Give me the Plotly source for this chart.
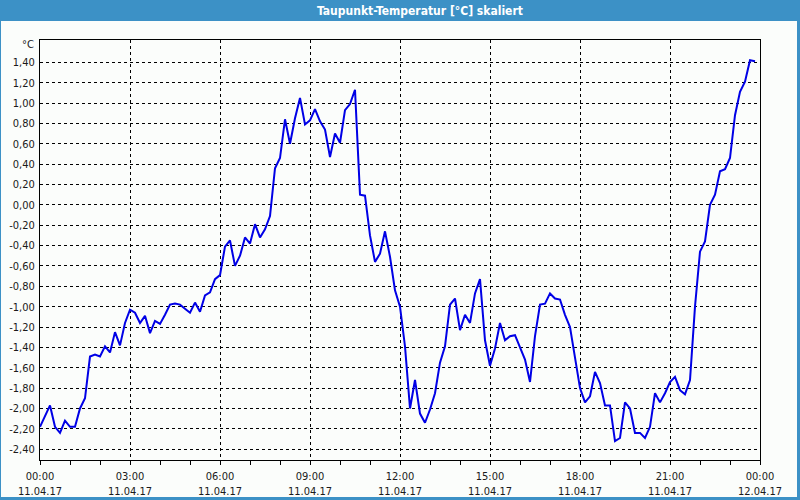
import plotly.graph_objects as go
import pandas as pd

# ---- data ----
START = "2017-04-11 00:00"
INTERVAL = "10min"
dewpoint = [
    -2.18, -2.08, -1.97, -2.18, -2.24, -2.12, -2.18, -2.18, -2.00, -1.90,
    -1.49, -1.47, -1.49, -1.39, -1.45, -1.25, -1.38, -1.16, -1.03, -1.06,
    -1.16, -1.09, -1.26, -1.14, -1.17, -1.08, -0.98, -0.97, -0.98, -1.02,
    -1.06, -0.96, -1.05, -0.89, -0.86, -0.73, -0.69, -0.41, -0.35, -0.60,
    -0.50, -0.32, -0.38, -0.19, -0.32, -0.24, -0.11, 0.36, 0.46, 0.84,
    0.60, 0.85, 1.05, 0.79, 0.83, 0.94, 0.82, 0.74, 0.47, 0.70,
    0.61, 0.93, 0.99, 1.13, 0.10, 0.09, -0.30, -0.56, -0.48, -0.26,
    -0.51, -0.84, -1.00, -1.39, -2.00, -1.72, -2.05, -2.14, -2.01, -1.85,
    -1.55, -1.39, -0.98, -0.92, -1.23, -1.08, -1.16, -0.87, -0.73, -1.33,
    -1.58, -1.41, -1.16, -1.33, -1.29, -1.28, -1.41, -1.52, -1.74, -1.29,
    -0.98, -0.97, -0.87, -0.92, -0.93, -1.08, -1.20, -1.49, -1.80, -1.94,
    -1.88, -1.64, -1.75, -1.97, -1.97, -2.32, -2.29, -1.94, -2.00, -2.24,
    -2.24, -2.29, -2.18, -1.85, -1.94, -1.85, -1.74, -1.69, -1.82, -1.86,
    -1.72, -1.00, -0.46, -0.36, 0.00, 0.10, 0.33, 0.35, 0.46, 0.88,
    1.11, 1.21, 1.42, 1.41,
]
Y_TICKS = [-2.40, -2.20, -2.00, -1.80, -1.60, -1.40, -1.20, -1.00, -0.80, -0.60,
           -0.40, -0.20, 0.00, 0.20, 0.40, 0.60, 0.80, 1.00, 1.20, 1.40]
X_RANGE = ["2017-04-11 00:00", "2017-04-12 00:00"]
TITLE = "Taupunkt-Temperatur [°C] skaliert"
UNIT = "°C"

times = pd.date_range(START, periods=len(dewpoint), freq=INTERVAL)
y_labels = [f"{v:.2f}".replace(".", ",") for v in Y_TICKS]

FONT = "Tahoma, DejaVu Sans Condensed, DejaVu Sans, sans-serif"
BG = "#fbfdfb"
BAR = "#3c91c6"

fig = go.Figure()
fig.add_trace(go.Scatter(
    x=times, y=dewpoint, mode="lines",
    line=dict(color="#0000e6", width=2),
    hoverinfo="skip", showlegend=False,
))

# plot area: x 40..760, y 40..460
L, R, T, B = 40, 40, 40, 40
W, H = 800, 500
pw, ph = W - L - R, H - T - B

def px(x):
    return (x - L) / pw

def py(y):
    return (H - B - y) / ph

fig.update_layout(
    width=W, height=H,
    margin=dict(l=L, r=R, t=T, b=B),
    paper_bgcolor=BG, plot_bgcolor=BG,
    font=dict(family=FONT, size=11, color="#1a1a1a"),
    xaxis=dict(
        range=X_RANGE, type="date", automargin=False,
        tickformat="%H:%M<br>%d.%m.%y",
        dtick=3 * 3600000, tick0=X_RANGE[0],
        ticks="outside", ticklen=4, tickcolor="black",
        ticklabelstandoff=2,
        showgrid=True, gridcolor="black", griddash="3px,3px", gridwidth=1,
        showline=True, linecolor="black", linewidth=1, mirror=True,
        minor=dict(dtick=3600000, ticks="outside", ticklen=4, tickcolor="black", showgrid=False),
        zeroline=False, fixedrange=True,
    ),
    yaxis=dict(
        range=[-2.506, 1.619], automargin=False,
        tickvals=Y_TICKS, ticktext=y_labels,
        ticks="", ticklabelstandoff=2,
        showgrid=True, gridcolor="black", griddash="3px,3px", gridwidth=1,
        showline=True, linecolor="black", linewidth=1, mirror=True,
        zeroline=False, fixedrange=True,
    ),
    shapes=[
        dict(type="rect", xref="paper", yref="paper", x0=px(0), x1=px(800), y0=py(21), y1=py(0),
             fillcolor=BAR, line=dict(width=0), layer="above"),
        dict(type="rect", xref="paper", yref="paper", x0=px(0), x1=px(1), y0=py(500), y1=py(21),
             fillcolor=BAR, line=dict(width=0), layer="above"),
        dict(type="rect", xref="paper", yref="paper", x0=px(797), x1=px(800), y0=py(500), y1=py(21),
             fillcolor=BAR, line=dict(width=0), layer="above"),
        dict(type="rect", xref="paper", yref="paper", x0=px(0), x1=px(800), y0=py(500), y1=py(497),
             fillcolor=BAR, line=dict(width=0), layer="above"),
    ],
    annotations=[
        dict(text=f"<b>{TITLE}</b>", xref="paper", yref="paper", x=px(420), y=py(10.5),
             xanchor="center", yanchor="middle", showarrow=False,
             font=dict(family=FONT, size=12, color="white")),
        dict(text=UNIT, xref="paper", yref="paper", x=px(36), y=py(45),
             xanchor="right", yanchor="middle", showarrow=False,
             font=dict(family=FONT, size=11, color="#1a1a1a")),
    ],
)

fig.write_html("out.html")
